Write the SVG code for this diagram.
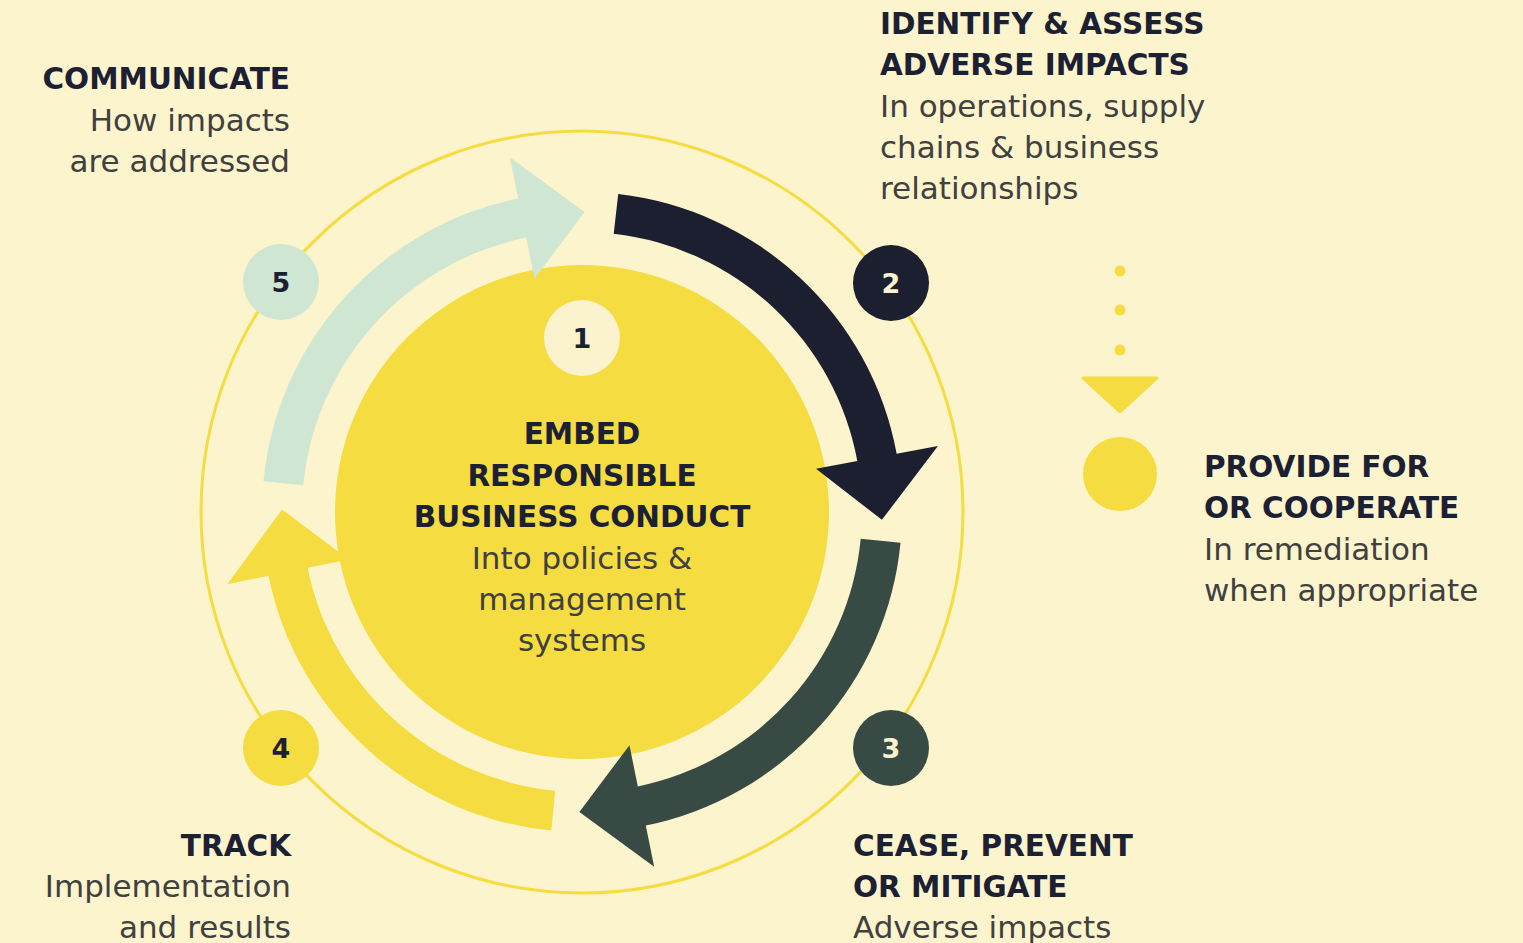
<svg xmlns="http://www.w3.org/2000/svg" xmlns:xlink="http://www.w3.org/1999/xlink" width="1523" height="943" viewBox="0 0 1523 943">
<style>
.h{font-family:"DejaVu Sans","Liberation Sans",sans-serif;font-weight:bold;font-size:29.5px;fill:#1C2033}
.b{font-family:"DejaVu Sans","Liberation Sans",sans-serif;font-size:31px;fill:#404040}
.n{font-family:"DejaVu Sans","Liberation Sans",sans-serif;font-weight:bold;font-size:27px;text-anchor:middle}
.r{text-anchor:end}
.m{text-anchor:middle}
</style>
<defs>
<path id="arr" d="M318.53,30.67 A320,320 0 0 1 63.80,313.57 L72.17,354.73 L-2.62,299.99 L47.45,233.22 L55.82,274.38 A280,280 0 0 0 278.71,26.84 Z"/>
</defs>
<rect width="1523" height="943" fill="#FCF4CD"/>
<circle cx="582" cy="512" r="381" fill="none" stroke="#F5DC40" stroke-width="3"/>
<g id="center-node">
<circle cx="582" cy="512" r="247" fill="#F5DC40"/>
<text class="h m" x="582" y="444">EMBED</text>
<text class="h m" x="582" y="486">RESPONSIBLE</text>
<text class="h m" x="582" y="527">BUSINESS CONDUCT</text>
<text class="b m" x="582" y="569">Into policies &amp;</text>
<text class="b m" x="582" y="610">management</text>
<text class="b m" x="582" y="651">systems</text>
</g>
<g id="connectors">
<use xlink:href="#arr" transform="translate(582,512) rotate(-89)" fill="#1B1F2F"/>
<use xlink:href="#arr" transform="translate(582,512)" fill="#384A44"/>
<use xlink:href="#arr" transform="translate(582,512) rotate(90)" fill="#F5DC40"/>
<use xlink:href="#arr" transform="translate(582,512) rotate(180)" fill="#CFE6D2"/>
</g>
<g id="badge-1">
<circle cx="582" cy="338" r="38" fill="#FBF2CE"/>
<text class="n" x="582" y="348" fill="#1C2033">1</text>
</g>
<g id="step-2">
<circle cx="891" cy="283" r="38" fill="#1B1F2F"/>
<text class="n" x="891" y="293" fill="#FBF2CE">2</text>
<text class="h" x="880" y="34">IDENTIFY &amp; ASSESS</text>
<text class="h" x="880" y="75">ADVERSE IMPACTS</text>
<text class="b" x="880" y="117">In operations, supply</text>
<text class="b" x="880" y="158">chains &amp; business</text>
<text class="b" x="880" y="199">relationships</text>
</g>
<g id="step-3">
<circle cx="891" cy="748" r="38" fill="#384A44"/>
<text class="n" x="891" y="758" fill="#FBF2CE">3</text>
<text class="h" x="853" y="856">CEASE, PREVENT</text>
<text class="h" x="853" y="897">OR MITIGATE</text>
<text class="b" x="853" y="938">Adverse impacts</text>
</g>
<g id="step-4">
<circle cx="281" cy="748" r="38" fill="#F5DC40"/>
<text class="n" x="281" y="758" fill="#1C2033">4</text>
<text class="h r" x="291" y="856">TRACK</text>
<text class="b r" x="291" y="897">Implementation</text>
<text class="b r" x="291" y="938">and results</text>
</g>
<g id="step-5">
<circle cx="281" cy="282" r="38" fill="#CFE6D2"/>
<text class="n" x="281" y="292" fill="#1C2033">5</text>
<text class="h r" x="290" y="89">COMMUNICATE</text>
<text class="b r" x="290" y="131">How impacts</text>
<text class="b r" x="290" y="172">are addressed</text>
</g>
<g id="remediation">
<circle cx="1120" cy="271" r="5.5" fill="#F5DC40"/>
<circle cx="1120" cy="310" r="5.5" fill="#F5DC40"/>
<circle cx="1120" cy="350" r="5.5" fill="#F5DC40"/>
<path d="M1083,378 L1157,378 L1120,412 Z" fill="#F5DC40" stroke="#F5DC40" stroke-width="3" stroke-linejoin="round"/>
<circle cx="1120" cy="474" r="37" fill="#F5DC40"/>
<text class="h" x="1204" y="477">PROVIDE FOR</text>
<text class="h" x="1204" y="518">OR COOPERATE</text>
<text class="b" x="1204" y="560">In remediation</text>
<text class="b" x="1204" y="601">when appropriate</text>
</g>
</svg>
